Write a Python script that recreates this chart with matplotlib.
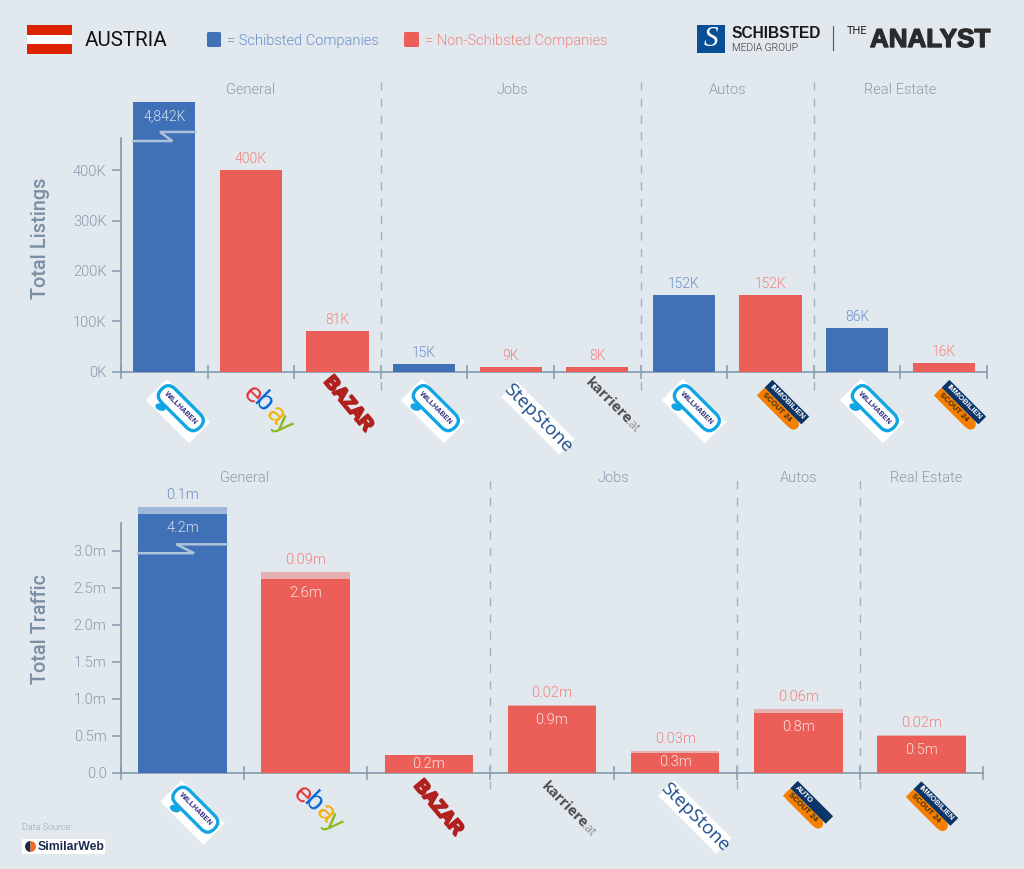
import matplotlib
matplotlib.use("Agg")
import matplotlib.pyplot as plt
import matplotlib.patheffects as pe
from matplotlib.patches import Rectangle, FancyBboxPatch, Ellipse, Wedge
from matplotlib.transforms import Affine2D

plt.rcParams["font.family"] = ["Roboto", "DejaVu Sans"]

# --- data ---
listings = [535, 400, 81, 15, 9, 8, 152, 152, 86, 16]  # first bar is cut by the axis break
listing_labels = ["4,842K", "400K", "81K", "15K", "9K", "8K", "152K", "152K", "86K", "16K"]
listing_schibsted = [True, False, False, True, False, False, True, False, True, False]
listing_sections = ["General", "Jobs", "Autos", "Real Estate"]

traffic_main = [3.5, 2.62, 0.24, 0.905, 0.27, 0.81, 0.5]  # first bar is cut too
traffic_extra = [0.09, 0.09, 0.0, 0.02, 0.03, 0.06, 0.02]
traffic_main_labels = ["4.2m", "2.6m", "0.2m", "0.9m", "0.3m", "0.8m", "0.5m"]
traffic_extra_labels = ["0.1m", "0.09m", "", "0.02m", "0.03m", "0.06m", "0.02m"]
traffic_schibsted = [True, False, False, False, False, False, False]
traffic_sections = ["General", "Jobs", "Autos", "Real Estate"]

BG = "#E1E8EE"
BLUE = "#4070B5"
RED = "#EC5F58"
BLUE_LIGHT = "#9FB8D8"
RED_LIGHT = "#E6AFB0"
BLUE_TXT = "#6A8EC8"
RED_TXT = "#F1847E"
AXIS = "#8499AD"
TXT = "#8A9BAC"
LIGHT = dict(family=["Roboto", "DejaVu Sans"], weight=300)

W, H = 1024, 869
fig = plt.figure(figsize=(W / 100, H / 100), dpi=100, facecolor=BG)


def make_axes(left, right, top, bottom):
    ax = fig.add_axes([left / W, 1 - bottom / H, (right - left) / W, (bottom - top) / H])
    ax.set_facecolor("none")
    for s in ["top", "right"]:
        ax.spines[s].set_visible(False)
    for s in ["left", "bottom"]:
        ax.spines[s].set_color(AXIS)
        ax.spines[s].set_linewidth(1.2)
    ax.tick_params(axis="y", length=6.5, width=1.1, color=AXIS, labelcolor=TXT, labelsize=10.5, pad=4)
    ax.tick_params(axis="x", direction="inout", length=9.5, width=1.1, color=AXIS, labelbottom=False)
    return ax


def sections(ax, names, centres, splits, label_y, lo, hi):
    tr = ax.get_xaxis_transform()
    for x in splits:
        ax.plot([x, x], [lo, hi], transform=tr, clip_on=False, color="#A3B3C2", lw=1,
                dashes=(6, 6))
    for name, x in zip(names, centres):
        ax.text(x, label_y, name, transform=tr, ha="center", va="center", color=TXT,
                fontsize=10.5, **LIGHT)


def break_mark(ax, i, width, y_low, y_high):
    left = i - width / 2
    right = i + width / 2
    xs = [left, i + width * 0.13, i - width * 0.07, right]
    ax.plot(xs, [y_low, y_low, y_high, y_high], color="#AFC2DC", lw=1.8, clip_on=False,
            solid_joinstyle="miter", zorder=4)


# --- Total Listings ---
ax1 = make_axes(121, 987, 138, 371.5)
x1 = list(range(len(listings)))
colors1 = [BLUE if s else RED for s in listing_schibsted]
ax1.bar(x1, listings, width=0.716, color=colors1, clip_on=False, zorder=3)
ax1.set_xlim(-0.5, 9.5)
ax1.set_ylim(0, 464)
ax1.set_xticks([i - 0.5 for i in range(11)])
ax1.set_yticks([0, 100, 200, 300, 400])
ax1.set_yticklabels(["0K", "100K", "200K", "300K", "400K"], fontweight=300)
ax1.set_ylabel("Total Listings", color="#7A8FA5", fontsize=14.3, fontweight=500)
ax1.yaxis.set_label_coords(-71 / 866, 0.572)
for i, (v, lab) in enumerate(zip(listings, listing_labels)):
    if i == 0:
        ax1.annotate(lab, (i, v), xytext=(0, -14), textcoords="offset pixels", ha="center",
                     va="center", color="#D5E0F0", fontsize=10, zorder=5, annotation_clip=False, **LIGHT)
    else:
        ax1.annotate(lab, (i, v), xytext=(0, 11), textcoords="offset pixels", ha="center",
                     va="center", color=BLUE_TXT if listing_schibsted[i] else RED_TXT,
                     fontsize=10, **LIGHT)
break_mark(ax1, 0, 0.716, 458, 476)
sections(ax1, listing_sections, [1, 4.02, 6.5, 8.5], [2.5, 5.5, 7.5], 1.207, -0.079, 1.244)

# --- Total Traffic ---
ax2 = make_axes(121, 983, 522.7, 773)
x2 = list(range(len(traffic_main)))
colors2 = [BLUE if s else RED for s in traffic_schibsted]
colors2b = [BLUE_LIGHT if s else RED_LIGHT for s in traffic_schibsted]
ax2.bar(x2, traffic_main, width=0.72, color=colors2, clip_on=False, zorder=3)
ax2.bar(x2, traffic_extra, bottom=traffic_main, width=0.72, color=colors2b, clip_on=False, zorder=3)
ax2.set_xlim(-0.5, 6.5)
ax2.set_ylim(0, 3.382)
ax2.set_xticks([i - 0.5 for i in range(8)])
ax2.set_yticks([0, 0.5, 1, 1.5, 2, 2.5, 3])
ax2.set_yticklabels(["0.0", "0.5m", "1.0m", "1.5m", "2.0m", "2.5m", "3.0m"], fontweight=300)
ax2.set_ylabel("Total Traffic", color="#7A8FA5", fontsize=14.3, fontweight=500)
ax2.yaxis.set_label_coords(-71 / 862, 0.575)
for i in x2:
    top = traffic_main[i] + traffic_extra[i]
    off = -9 if traffic_main[i] < 0.3 else -14
    ax2.annotate(traffic_main_labels[i], (i, traffic_main[i]), xytext=(0, off),
                 textcoords="offset pixels", ha="center", va="center", color="#F6E4E3" if i else "#D5E0F0",
                 fontsize=10.5, zorder=5, annotation_clip=False, **LIGHT)
    if traffic_extra_labels[i]:
        ax2.annotate(traffic_extra_labels[i], (i, top), xytext=(0, 12), textcoords="offset pixels",
                     ha="center", va="center", color=BLUE_TXT if traffic_schibsted[i] else RED_TXT,
                     fontsize=10.5, annotation_clip=False, **LIGHT)
break_mark(ax2, 0, 0.72, 2.97, 3.09)
sections(ax2, traffic_sections, [0.5, 3.5, 5, 6.04], [2.5, 4.5, 5.5], 1.179, -0.064, 1.179)

# --- header, logos, footer: overlay in pixels ---
ov = fig.add_axes([0, 0, 1, 1], facecolor="none", zorder=10)
ov.set_xlim(0, W)
ov.set_ylim(H, 0)
ov.set_axis_off()


def rot(cx, cy, angle=45):
    return Affine2D().rotate_deg(angle).translate(cx, cy) + ov.transData


def label(cx, cy, u, v, s, angle=45, **kw):
    # place text at local offset (u, v) of a logo rotated by angle
    p = Affine2D().rotate_deg(angle).transform((u, v))
    kw.setdefault("ha", "center")
    return ov.text(cx + p[0], cy + p[1], s, rotation=-angle, rotation_mode="anchor", va="center", **kw)


def willhaben(cx, cy):
    t = rot(cx, cy)
    ov.add_patch(Rectangle((-30.5, -15), 61, 30, fc="white", ec="none", transform=t))
    ov.add_patch(Ellipse((-15, 9.5), 11, 7, angle=-25, fc="#12A5E3", ec="none", transform=t))
    ov.add_patch(FancyBboxPatch((-27, -13.5), 54, 19, boxstyle="round,pad=0,rounding_size=9",
                                fc="white", ec="#12A5E3", lw=2.4, transform=t))
    label(cx, cy, 0, -4, "WILLHABEN", color="#2B2A7E", fontsize=5.2, fontweight="bold",
          family="Liberation Sans")


def ebay(letters_xy):
    for ch, col, (x, y) in zip("ebay", ["#E53238", "#0064D2", "#F5AF02", "#86B817"], letters_xy):
        ov.text(x, y, ch, color=col, fontsize=20, rotation=-45, rotation_mode="anchor",
                ha="center", va="center", family="Liberation Sans")


def bazar(cx, cy):
    t = label(cx, cy, 0, 0, "BAZAR", angle=50, color="#B0201E", fontsize=13.5, fontweight="bold",
              family="Liberation Sans")
    t.set_path_effects([pe.withStroke(linewidth=1.6, foreground="#B0201E")])


def stepstone(cx, cy):
    t = rot(cx, cy)
    ov.add_patch(Rectangle((-41, -11), 82, 22, fc="white", ec="none", transform=t))
    label(cx, cy, 0, 0, "StepStone", color="#1F4E8C", fontsize=13.5, family="Open Sans")


def karriere(cx, cy):
    label(cx, cy, -10, 0, "karriere", color="#4D4D4D", fontsize=10.5, fontweight="bold", family="Open Sans")
    label(cx, cy, 17, 1, ".at", color="#666666", fontsize=9, family="Open Sans", weight=300, ha="left")


def scout(cx, cy, top, length=52, width=22):
    t = rot(cx, cy)
    ov.add_patch(FancyBboxPatch((-length / 2, 0), length, width / 2, boxstyle="round,pad=0,rounding_size=7",
                                fc="#F58000", ec="none", transform=t))
    ov.add_patch(Rectangle((-length / 2, 0), length - 8, width / 2, fc="#F58000", ec="none", transform=t))
    ov.add_patch(Rectangle((-length / 2, -width / 2), length, width / 2, fc="#0B3568", ec="none", transform=t))
    label(cx, cy, -length / 2 + 3, -width / 4, top, color="white", fontsize=5.6, fontweight="bold",
          family="Liberation Sans", ha="left")
    label(cx, cy, -length / 2 + 3, width / 4, "SCOUT 24", color="#3A2A10", fontsize=5.6, fontweight="bold",
          family="Liberation Sans", ha="left")


for c in [(178, 411), (433, 411), (694, 411), (872, 411), (192.5, 812.5)]:
    willhaben(*c)
ebay([(252, 395), (263, 402), (275, 415), (283, 425)])
ebay([(302, 795), (313, 802), (325, 813), (333, 823)])
bazar(348, 404)
bazar(438, 808)
stepstone(538, 418)
stepstone(695, 817)
karriere(616, 408)
karriere(572, 812)
scout(783, 406, "IMMOBILIEN")
scout(960, 406, "IMMOBILIEN")
scout(932, 807.5, "IMMOBILIEN")
scout(808, 806, "AUTO", length=50, width=21)

# flag and title
ov.add_patch(Rectangle((27, 25), 45, 29, fc="white", ec="none"))
ov.add_patch(Rectangle((27, 25), 45, 10, fc="#DD2200", ec="none"))
ov.add_patch(Rectangle((27, 44), 45, 10, fc="#DD2200", ec="none"))
ov.text(85, 41, "AUSTRIA", color="#111111", fontsize=14.8, va="center", weight=400)

# legend
ov.add_patch(FancyBboxPatch((207, 32), 14, 15, boxstyle="round,pad=0,rounding_size=1.5", fc=BLUE, ec="none"))
ov.text(227, 41, "= Schibsted Companies", color=BLUE_TXT, fontsize=10.5, va="center", **LIGHT)
ov.add_patch(FancyBboxPatch((404, 32), 15, 15, boxstyle="round,pad=0,rounding_size=1.5", fc=RED, ec="none"))
ov.text(425, 41, "= Non-Schibsted Companies", color=RED_TXT, fontsize=10.5, va="center", **LIGHT)

# Schibsted / The Analyst logos
ov.add_patch(Rectangle((697, 25), 28, 28, fc="#0A4F96", ec="none"))
ov.text(711, 39, "S", color="white", fontsize=21, ha="center", va="center", style="italic",
        family="Liberation Serif")
ov.text(732, 34, "SCHIBSTED", color="#1A1A1A", fontsize=11.2, va="center", fontweight="bold",
        family="Liberation Sans")
ov.text(732, 47.5, "MEDIA GROUP", color="#333333", fontsize=7.4, va="center", family="Roboto", weight=300)
ov.plot([833, 833], [26, 50], color="#555555", lw=0.8)
ov.text(847, 31, "THE", color="#222222", fontsize=8, va="center", family="Roboto")
t = ov.text(870, 40, "ANALYST", color="#2B2B2B", fontsize=18.7, va="center", fontweight="bold",
            family="Liberation Sans")
t.set_path_effects([pe.withStroke(linewidth=1, foreground="#2B2B2B")])

# footer
ov.text(22, 828, "Data Source:", color="#93A3B3", fontsize=6.5, va="center", **LIGHT)
ov.add_patch(Rectangle((22, 839), 83, 15, fc="white", ec="none"))
ov.add_patch(Wedge((30.5, 846.5), 5.5, 90, 270, fc="#1B2A4E", ec="none"))
ov.add_patch(Wedge((30.5, 846.5), 5.5, 270, 90, fc="#F26B21", ec="none"))
ov.text(38, 846.5, "SimilarWeb", color="#1B2A4E", fontsize=8.8, va="center", fontweight="bold",
        family="Liberation Sans")

fig.savefig("out.png", dpi=100, facecolor=BG)
